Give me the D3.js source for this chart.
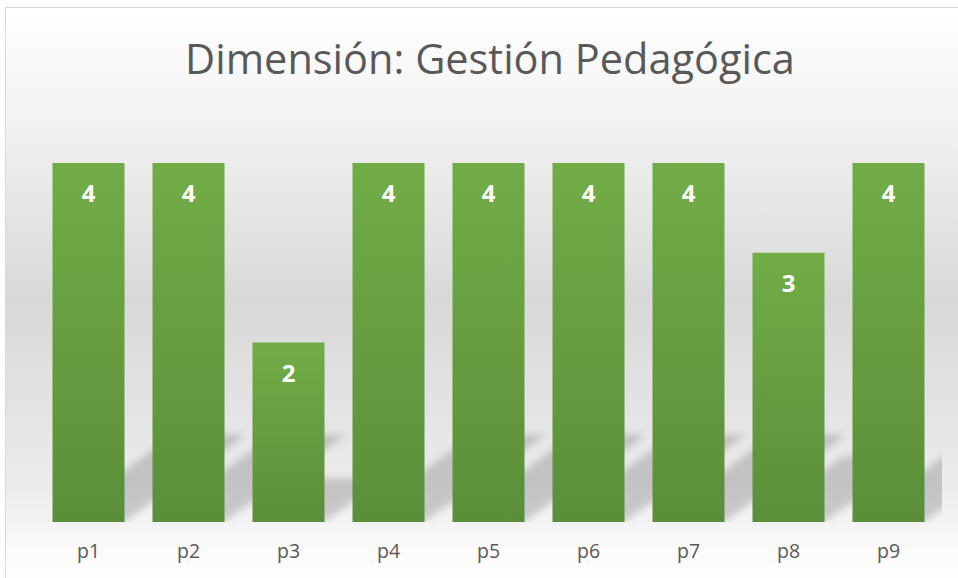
<!DOCTYPE html>
<html>
<head>
<meta charset="utf-8">
<script src="https://cdn.jsdelivr.net/npm/d3@7"></script>
<style>
  body { margin: 0; background: #fff; }
  svg { display: block; }
</style>
</head>
<body>
<svg id="chart" width="958" height="578"></svg>
<script>
const title = "Dimensión: Gestión Pedagógica";
const categories = ["p1", "p2", "p3", "p4", "p5", "p6", "p7", "p8", "p9"];
const values = [4, 4, 2, 4, 4, 4, 4, 3, 4];

const svg = d3.select("svg#chart");
const W = +svg.attr("width"), H = +svg.attr("height");

const defs = svg.append("defs");

// chart area background gradient (white - grey - white)
const bg = defs.append("linearGradient")
  .attr("id", "bg").attr("x1", 0).attr("y1", 0).attr("x2", 0).attr("y2", 1);
bg.append("stop").attr("offset", "0%").attr("stop-color", "#ffffff");
bg.append("stop").attr("offset", "18%").attr("stop-color", "#f3f3f3");
bg.append("stop").attr("offset", "50%").attr("stop-color", "#d8d8d8");
bg.append("stop").attr("offset", "82%").attr("stop-color", "#ececec");
bg.append("stop").attr("offset", "93%").attr("stop-color", "#fbfbfb");
bg.append("stop").attr("offset", "100%").attr("stop-color", "#ffffff");

// bar gradient
const bar = defs.append("linearGradient")
  .attr("id", "bar").attr("x1", 0).attr("y1", 0).attr("x2", 0).attr("y2", 1);
bar.append("stop").attr("offset", "0%").attr("stop-color", "#71ad47");
bar.append("stop").attr("offset", "100%").attr("stop-color", "#5b8e3a");

defs.append("filter").attr("id", "blur")
  .attr("x", "-20%").attr("y", "-20%").attr("width", "140%").attr("height", "140%")
  .append("feGaussianBlur").attr("stdDeviation", 3.5);

defs.append("clipPath").attr("id", "plotclip")
  .append("rect").attr("x", 0).attr("y", 0).attr("width", 942).attr("height", 522);

svg.append("rect")
  .attr("x", 5.5).attr("y", 7.5)
  .attr("width", W + 10).attr("height", H + 10)
  .attr("fill", "url(#bg)")
  .attr("stroke", "#d9d9d9")
  .attr("stroke-width", 1);

//scales
const xScale = d3.scaleBand()
  .domain(categories)
  .range([38.5, 938.5])
  .paddingInner(0.28)
  .paddingOuter(0.14);

const yScale = d3.scaleLinear()
  .domain([0, 4])
  .range([522, 163]);

const data = categories.map((c, i) => ({ c, v: values[i] }));

//perspective shadows behind bars
const shadowPath = d => {
  const x0 = xScale(d.c), x1 = x0 + xScale.bandwidth();
  const yb = yScale(0);
  const h = 0.243 * (yb - yScale(d.v));
  const s = 1.39 * h;
  const p = d3.path();
  p.moveTo(x0, yb);
  p.lineTo(x1, yb);
  p.lineTo(x1 + s, yb - h);
  p.lineTo(x0 + s, yb - h);
  p.closePath();
  return p.toString();
};

svg.append("g")
  .attr("clip-path", "url(#plotclip)")
  .append("g")
  .attr("filter", "url(#blur)")
  .selectAll("path")
  .data(data)
  .join("path")
  .attr("d", shadowPath)
  .attr("fill", "#000")
  .attr("fill-opacity", 0.17);

//bars
svg.append("g")
  .selectAll("rect")
  .data(data)
  .join("rect")
  .attr("x", d => xScale(d.c))
  .attr("y", d => yScale(d.v))
  .attr("width", xScale.bandwidth())
  .attr("height", d => yScale(0) - yScale(d.v))
  .attr("fill", "url(#bar)");

//data labels
svg.append("g")
  .selectAll("text")
  .data(data)
  .join("text")
  .attr("x", d => xScale(d.c) + xScale.bandwidth() / 2)
  .attr("y", d => yScale(d.v) + 39)
  .attr("text-anchor", "middle")
  .attr("fill", "#ffffff")
  .attr("font-family", "'Open Sans', sans-serif")
  .attr("font-weight", "bold")
  .attr("font-size", 24)
  .text(d => d.v);

//category axis
const xAxis = svg.append("g")
  .attr("transform", `translate(0, ${yScale(0)})`)
  .call(d3.axisBottom(xScale).tickSize(0).tickPadding(22));
xAxis.select(".domain").remove();
xAxis.selectAll("text")
  .attr("fill", "#595959")
  .attr("font-family", "'Open Sans', sans-serif")
  .attr("font-size", 19.5);

//title
const t = svg.append("text")
  .attr("x", 490)
  .attr("y", 74)
  .attr("text-anchor", "middle")
  .attr("fill", "#595959")
  .attr("font-family", "'Open Sans', sans-serif")
  .attr("font-size", 40)
  .text(title);
const tw = t.node().getComputedTextLength();
t.attr("font-size", 40 * 610 / tw);
</script>
</body>
</html>
